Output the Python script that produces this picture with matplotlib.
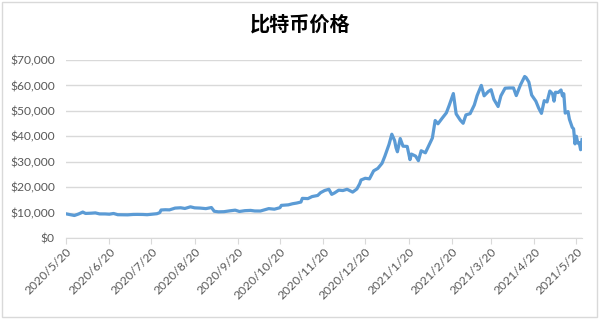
import pandas as pd
import matplotlib.pyplot as plt
import matplotlib.dates as mdates
from matplotlib.ticker import FuncFormatter
from matplotlib.patches import Rectangle

plt.rcParams['font.family'] = ['Lato', 'Noto Sans CJK SC', 'DejaVu Sans']

# Bitcoin price (USD)
dates = [
    "2020-05-20", "2020-05-23", "2020-05-26", "2020-05-29", "2020-06-01", "2020-06-03",
    "2020-06-07", "2020-06-10", "2020-06-13", "2020-06-17", "2020-06-20", "2020-06-23",
    "2020-06-26", "2020-06-30", "2020-07-03", "2020-07-07", "2020-07-10", "2020-07-14",
    "2020-07-17", "2020-07-21", "2020-07-24", "2020-07-26", "2020-07-27", "2020-07-30",
    "2020-08-02", "2020-08-06", "2020-08-10", "2020-08-13", "2020-08-17", "2020-08-20",
    "2020-08-24", "2020-08-28", "2020-09-01", "2020-09-03", "2020-09-06", "2020-09-10",
    "2020-09-14", "2020-09-18", "2020-09-21", "2020-09-25", "2020-09-29", "2020-10-02",
    "2020-10-06", "2020-10-09", "2020-10-12", "2020-10-16", "2020-10-20", "2020-10-21",
    "2020-10-26", "2020-10-29", "2020-11-01", "2020-11-04", "2020-11-05", "2020-11-09",
    "2020-11-12", "2020-11-16", "2020-11-18", "2020-11-21", "2020-11-24", "2020-11-26",
    "2020-11-28", "2020-12-01", "2020-12-04", "2020-12-07", "2020-12-11", "2020-12-14",
    "2020-12-16", "2020-12-17", "2020-12-20", "2020-12-23", "2020-12-26", "2020-12-29",
    "2021-01-01", "2021-01-03", "2021-01-06", "2021-01-08", "2021-01-10", "2021-01-11",
    "2021-01-12", "2021-01-14", "2021-01-16", "2021-01-19", "2021-01-21", "2021-01-22",
    "2021-01-25", "2021-01-27", "2021-01-29", "2021-02-01", "2021-02-04", "2021-02-06",
    "2021-02-08", "2021-02-10", "2021-02-13", "2021-02-16", "2021-02-18", "2021-02-21",
    "2021-02-23", "2021-02-26", "2021-02-28", "2021-03-02", "2021-03-05", "2021-03-08",
    "2021-03-10", "2021-03-13", "2021-03-15", "2021-03-18", "2021-03-20", "2021-03-22",
    "2021-03-25", "2021-03-27", "2021-03-30", "2021-04-02", "2021-04-05", "2021-04-07",
    "2021-04-10", "2021-04-13", "2021-04-14", "2021-04-16", "2021-04-18", "2021-04-21",
    "2021-04-23", "2021-04-25", "2021-04-27", "2021-04-29", "2021-05-01", "2021-05-03",
    "2021-05-04", "2021-05-05", "2021-05-07", "2021-05-09", "2021-05-10", "2021-05-11",
    "2021-05-12", "2021-05-14", "2021-05-15", "2021-05-17", "2021-05-18", "2021-05-19",
    "2021-05-20", "2021-05-21", "2021-05-22", "2021-05-23", "2021-05-24",
]
prices = [
    9500, 9170, 8840, 9430, 10200, 9650,
    9750, 9870, 9460, 9450, 9350, 9630,
    9150, 9140, 9090, 9250, 9270, 9240,
    9150, 9390, 9540, 9950, 11000, 11100,
    11050, 11750, 11880, 11600, 12250, 11850,
    11750, 11540, 11970, 10510, 10280, 10340,
    10670, 10940, 10420, 10740, 10840, 10620,
    10600, 11060, 11550, 11320, 11910, 12820,
    13030, 13460, 13740, 14130, 15580, 15480,
    16290, 16720, 17800, 18680, 19150, 17150,
    17700, 18800, 18650, 19150, 18040, 19270,
    21300, 22800, 23480, 23240, 26400, 27360,
    29370, 32130, 36800, 40800, 38300, 35500,
    33900, 39100, 36100, 36000, 30800, 33000,
    32200, 30400, 34300, 33500, 37000, 39300,
    46200, 44900, 47100, 49200, 52100, 56800,
    48800, 46300, 45100, 48400, 48900, 52300,
    56000, 60000, 55900, 57600, 58300, 54500,
    51700, 55900, 58900, 59000, 59000, 56000,
    60200, 63500, 63100, 61300, 56200, 53800,
    51100, 49000, 54000, 53500, 57800, 56600,
    53800, 57300, 57200, 58200, 55900, 56700,
    49100, 49700, 46700, 43500, 42900, 37000,
    40000, 37300, 37500, 34700, 38700,
]

x = pd.to_datetime(dates)

fig = plt.figure(figsize=(6, 3.19), dpi=100)
ax = fig.add_axes([0.11, 0.254, 0.86, 0.558])

ax.plot(x, prices, color="#5B9BD5", linewidth=2.3, solid_joinstyle="round")

ax.set_ylim(0, 70000)
ax.set_yticks(range(0, 70001, 10000))
ax.yaxis.set_major_formatter(FuncFormatter(lambda v, p: f"${v:,.0f}"))
ax.set_xlim(pd.Timestamp("2020-05-20"), pd.Timestamp("2021-05-24"))
ax.xaxis.set_major_locator(mdates.MonthLocator(bymonthday=20))
ax.xaxis.set_major_formatter(
    FuncFormatter(lambda v, p: (lambda d: f"{d.year}/{d.month}/{d.day}")(mdates.num2date(v)))
)

ax.grid(axis="y", color="#D9D9D9", linewidth=1)
ax.set_axisbelow(True)
for s in ["top", "right", "left"]:
    ax.spines[s].set_visible(False)
ax.spines["bottom"].set_color("#D9D9D9")
ax.tick_params(axis="y", length=0, pad=8, labelsize=8.7, labelcolor="#595959")
ax.tick_params(axis="x", length=4, color="#D9D9D9", pad=2, labelsize=8.7, labelcolor="#595959")
plt.setp(ax.get_xticklabels(), rotation=45, ha="right", rotation_mode="anchor")

fig.text(0.5, 0.925, "比特币价格", ha="center", va="center", fontsize=14.5,
         fontweight="bold", family=["Noto Sans CJK SC", "DejaVu Sans"])

fig.patches.append(Rectangle((0.004, 0.006), 0.991, 0.988, transform=fig.transFigure,
                             fill=False, edgecolor="#D9D9D9", linewidth=1))

fig.savefig("out.png", dpi=100)
